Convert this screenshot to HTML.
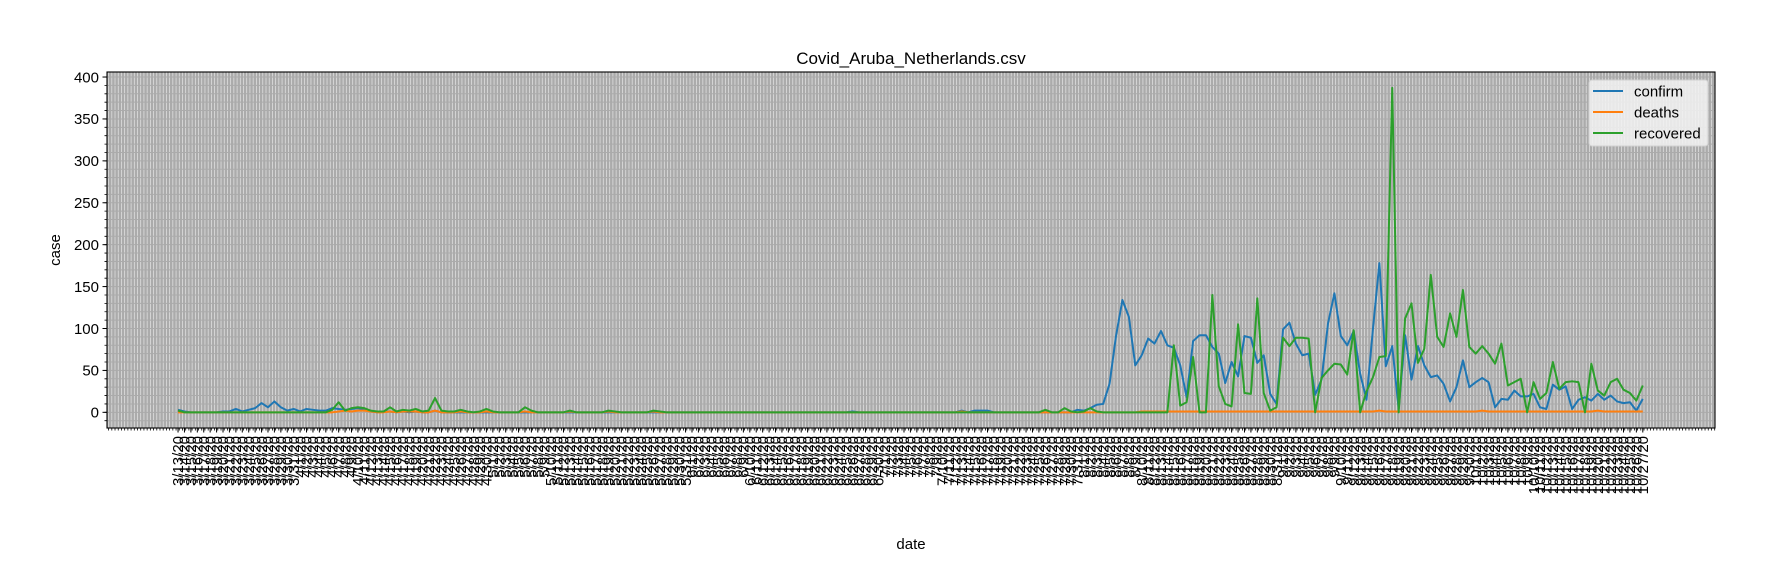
<!DOCTYPE html>
<html><head><meta charset="utf-8"><title>Covid_Aruba_Netherlands.csv</title>
<style>
html,body{margin:0;padding:0;background:#fff;}
svg{display:block;font-family:"Liberation Sans","DejaVu Sans",sans-serif;}
</style></head>
<body>
<svg id="chart" width="1765" height="570" viewBox="0 0 1765 570">
<rect x="0" y="0" width="1765" height="570" fill="#fff"/>
<text x="911" y="64" text-anchor="middle" font-size="17" fill="#000">Covid_Aruba_Netherlands.csv</text>
<g id="plot"></g>
<text x="911" y="549" text-anchor="middle" font-size="15" fill="#000">date</text>
<text transform="translate(60,250) rotate(-90)" text-anchor="middle" font-size="15" fill="#000">case</text>
<g id="legend"></g>
</svg>
<script>
const confirmVals = [
3,1,0,0,0,0,0,1,1,4,
1,3,5,11,6,13,6,2,4,1,
4,3,2,2,5,4,3,4,5,3,
1,0,1,1,0,1,0,1,0,0,
2,0,0,0,0,0,0,0,0,0,
0,0,0,0,0,0,0,0,0,0,
0,0,0,0,0,0,0,0,0,0,
0,0,0,0,0,0,0,0,0,0,
0,0,0,0,0,0,0,0,0,0,
0,0,0,0,0,0,0,0,0,0,
0,0,0,0,0,1,0,0,0,0,
0,0,0,0,0,0,0,0,0,0,
0,0,2,0,2,2,2,0,0,0,
0,0,0,0,0,0,0,0,0,0,
3,2,5,9,10,34,91,134,114,56,
68,88,82,97,80,77,56,18,85,92,
92,78,70,35,60,43,91,89,59,68,
22,10,99,107,82,68,70,21,39,106,
142,91,80,97,46,15,100,178,55,79,
4,92,39,79,56,42,44,34,13,30,
62,30,36,41,36,6,16,15,26,19,
19,22,6,4,33,27,31,4,15,18,
14,22,15,20,13,11,12,2,16];
const deathsVals = [
0,0,0,0,0,0,0,0,0,0,
0,0,0,0,0,0,0,0,0,0,
0,0,0,0,0,1,2,1,2,2,
1,0,0,1,0,1,1,1,0,0,
2,0,0,0,1,0,0,0,1,0,
0,0,0,0,1,0,0,0,0,0,
0,1,0,0,0,0,0,1,0,0,
0,0,0,0,1,0,0,0,0,0,
0,0,0,0,0,0,0,0,0,0,
0,0,0,0,0,0,0,0,0,0,
0,0,0,0,0,0,0,0,0,0,
0,0,0,0,0,0,0,0,0,0,
0,0,1,0,0,0,0,0,0,0,
0,0,0,0,0,0,0,0,0,0,
0,0,0,0,0,0,0,0,0,0,
1,1,1,1,1,1,1,1,1,1,
1,1,1,1,1,1,1,1,1,1,
1,1,1,1,1,1,1,1,1,1,
1,1,1,1,1,1,1,2,1,1,
1,1,1,1,1,1,1,1,1,1,
1,1,1,2,1,1,1,1,1,1,
1,1,1,1,1,1,1,1,1,1,
1,2,1,1,1,1,1,1,1];
const recoveredVals = [
2,0,0,0,0,0,0,0,0,0,
0,0,0,0,0,0,0,0,0,0,
0,0,0,0,3,12,2,5,6,5,
2,1,1,6,1,3,2,4,1,2,
17,2,1,1,3,1,0,1,4,1,
0,0,0,0,6,2,0,0,0,0,
0,2,0,0,0,0,0,2,1,0,
0,0,0,0,2,1,0,0,0,0,
0,0,0,0,0,0,0,0,0,0,
0,0,0,0,0,0,0,0,0,0,
0,0,0,0,0,0,0,0,0,0,
0,0,0,0,0,0,0,0,0,0,
0,0,0,0,0,0,0,0,0,0,
0,0,0,0,0,3,0,0,5,1,
0,1,5,1,0,0,0,0,0,0,
0,0,0,0,0,80,8,12,66,0,
0,140,31,10,7,105,23,22,136,23,
2,6,89,79,89,89,88,0,41,50,
58,57,45,98,0,25,42,66,67,387,
0,112,130,59,76,164,90,78,118,90,
146,78,70,79,70,58,82,32,36,40,
0,36,16,23,60,28,36,37,36,0,
58,26,20,36,40,27,23,14,32];
const yTickValues = [0,50,100,150,200,250,300,350,400];
const startDate = [2020,2,13];
const dates = [];
(function(){
  const d = new Date(Date.UTC(startDate[0], startDate[1], startDate[2]));
  for (let i = 0; i < confirmVals.length; i++) {
    dates.push((d.getUTCMonth()+1) + '/' + d.getUTCDate() + '/' + String(d.getUTCFullYear()).slice(2));
    d.setUTCDate(d.getUTCDate()+1);
  }
})();

const NS = 'http://www.w3.org/2000/svg';
const AX = {left:107, right:1715, top:72, bottom:428};
const n = dates.length;
const xDomMin = -0.0485*(n-1), xDomMax = (n-1)*1.0493;
function xScale(i){ return AX.left + (i - xDomMin)/(xDomMax - xDomMin)*(AX.right-AX.left); }
const yDomMin = -18.7, yDomMax = 406;
function yScale(v){ return AX.bottom - (v - yDomMin)/(yDomMax - yDomMin)*(AX.bottom-AX.top); }
function mk(tag, attrs, parent){
  const el = document.createElementNS(NS, tag);
  for (const k in attrs) el.setAttribute(k, attrs[k]);
  parent.appendChild(el); return el;
}
const plot = document.getElementById('plot');
const bg = mk('rect', {x:AX.left, y:AX.top, width:AX.right-AX.left, height:AX.bottom-AX.top, fill:'#ababab'}, plot);



const grid = mk('g', {}, plot);


const step = (xScale(1)-xScale(0))/2;
let gp = '';
for (let x = AX.left + 1.6; x < AX.right; x += step) {
  gp += 'M' + x.toFixed(2) + ' ' + AX.top + 'V' + AX.bottom;
}
mk('path', {d:gp, stroke:'#ffffff', 'stroke-width':0.7, 'stroke-opacity':0.7, fill:'none'}, grid);
let hp = '';
for (let v = -10; v <= 400; v += 10) { const y = yScale(v); hp += 'M' + AX.left + ' ' + y.toFixed(2) + 'H' + AX.right; }
mk('path', {d:hp, stroke:'#ababab', 'stroke-width':1, fill:'none'}, grid);

const seriesList = [
  {name:'confirm', vals:confirmVals, color:'#1f77b4'},
  {name:'deaths', vals:deathsVals, color:'#ff7f0e'},
  {name:'recovered', vals:recoveredVals, color:'#2ca02c'}
];
seriesList.forEach(s => {
  let d = '';
  s.vals.forEach((v, i) => { d += (i ? 'L' : 'M') + xScale(i).toFixed(2) + ' ' + yScale(v).toFixed(2); });
  const p = mk('path', {d:d, stroke:s.color, 'stroke-width':2, fill:'none', 'stroke-linejoin':'round'}, plot);
  
  
});

const frame = mk('rect', {x:AX.left, y:AX.top, width:AX.right-AX.left, height:AX.bottom-AX.top, fill:'none', stroke:'#000', 'stroke-width':1.1}, plot);



const yAxis = mk('g', {}, plot);


let ym = '';
for (let v = -10; v <= 400; v += 10) { ym += 'M' + AX.left + ' ' + yScale(v).toFixed(2) + 'h-2.5'; }
mk('path', {d:ym, stroke:'#000', 'stroke-width':0.8}, yAxis);
yTickValues.forEach(v => {
  const y = yScale(v);
  mk('line', {x1:AX.left, x2:AX.left-4.5, y1:y, y2:y, stroke:'#000', 'stroke-width':1}, yAxis);
  const t = mk('text', {x:AX.left-8, y:y+5.3, 'text-anchor':'end', 'font-size':15, fill:'#000'}, yAxis);
  t.textContent = v;
  
  
});

const xAxis = mk('g', {}, plot);


let xm = '';
for (let x = AX.left + 1.6; x < AX.right; x += step) { xm += 'M' + x.toFixed(2) + ' ' + AX.bottom + 'v2.5'; }
mk('path', {d:xm, stroke:'#000', 'stroke-width':0.8}, xAxis);
let xM = '';
dates.forEach((lab, i) => { xM += 'M' + xScale(i).toFixed(2) + ' ' + AX.bottom + 'v4.5'; });
mk('path', {d:xM, stroke:'#000', 'stroke-width':1}, xAxis);
dates.forEach((lab, i) => {
  const x = xScale(i);
  const t = mk('text', {transform:'translate(' + (x+5.2).toFixed(2) + ',' + (AX.bottom+8) + ') rotate(-90)', 'text-anchor':'end', 'font-size':15, fill:'#000'}, xAxis);
  t.textContent = lab;
  
  
});

const legend = document.getElementById('legend');
const lb = mk('rect', {x:1589, y:80, width:119, height:66, rx:3, fill:'#f2f2f2', 'fill-opacity':0.85, stroke:'#d0d0d0', 'stroke-width':1}, legend);


seriesList.forEach((s, k) => {
  const y = 91 + k*21;
  const g = mk('g', {}, legend);
  
  
  mk('line', {x1:1593, x2:1623, y1:y, y2:y, stroke:s.color, 'stroke-width':2}, g);
  const t = mk('text', {x:1634, y:y+5.3, 'font-size':15, fill:'#000'}, g);
  t.textContent = s.name;
});
</script>
</body></html>
